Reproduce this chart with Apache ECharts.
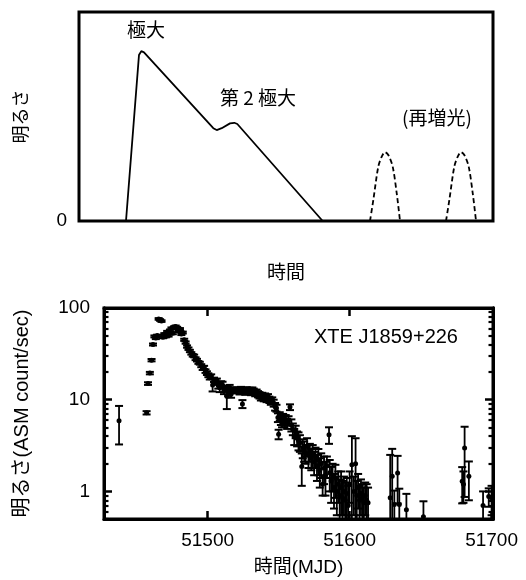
<!DOCTYPE html>
<html>
<head>
<meta charset="utf-8">
<script src="https://cdn.jsdelivr.net/npm/echarts@6/dist/echarts.min.js"></script>
<style>
html,body{margin:0;padding:0;background:#fff;}
#chart{width:526px;height:580px;}
</style>
</head>
<body>
<div id="chart"></div>
<script>
// ---------- Top schematic panel ----------
const outburstX = [11.35, 14.49, 15.05, 15.70, 32.44, 33.26, 34.47, 36.47, 37.51, 38.24, 58.86];
const outburstY = [0, 79.4, 81.3, 80.7, 44.4, 43.5, 44.4, 46.7, 47.0, 46.4, 0];
const rebright1X = [70.29, 71.09, 72.29, 73.12, 73.91, 74.71, 75.77, 76.74, 77.54];
const rebright1Y = [0, 10, 26, 30.8, 32.9, 31.6, 26, 13.3, 0];
const rebright2X = [88.65, 89.45, 90.65, 91.48, 92.27, 93.07, 94.13, 95.10, 95.90];
const rebright2Y = [0, 10, 26, 30.8, 32.9, 31.6, 26, 13.3, 0];
const topLabels = ['極大', '第 2 極大', '(再増光)'];

// ---------- Bottom light curve (XTE J1859+226, RXTE/ASM) ----------
const mjd = [
 51437.6,
 51457.0,51458.0,51459.3,51460.5,51461.5,51462.5,51463.5,51464.5,51465.5,51466.5,51467.5,51468.5,51469.5,51470.5,
 51471.5,51472.5,51473.5,51474.5,51475.5,51476.5,51477.5,51478.5,51479.5,51480.5,51481.5,51482.5,51483.5,51484.5,
 51485.5,51486.5,51487.5,51488.5,51489.5,51490.5,51491.5,51492.5,51493.5,51494.5,51495.5,51496.5,51497.5,51498.5,
 51499.5,51500.5,51501.5,51502.5,51503.5,51504.5,51505.5,51506.5,51507.5,51508.5,51509.5,51510.5,51511.5,51512.5,
 51513.5,51514.5,51515.5,51516.5,51518.5,51520.5,51522.5,51523.5,51524.5,51525.5,51526.5,51527.5,51528.5,51529.5,
 51530.5,51531.5,51532.5,51533.5,51534.5,51535.5,51536.5,51537.5,51538.5,51539.5,51540.5,51541.5,51542.5,51543.5,
 51544.5,51545.5,51546.5,51547.5,51548.5,51549.5,51550.0,51550.8,51551.6,51552.4,51553.2,51554.0,51555.0,51556.0,
 51557.0,51558.0,51559.0,51560.0,51561.0,51562.0,51563.0,51564.0,51565.0,51566.3,51567.0,51568.0,51569.0,51570.0,
 51571.0,51572.0,51573.0,51574.0,51575.0,51576.0,51577.0,51578.0,51579.0,51580.0,51581.0,51582.0,51583.0,51584.0,
 51585.5,51586.0,51587.0,51588.0,51589.0,51590.0,51591.0,51592.0,51593.0,51594.0,51595.0,51596.0,51597.0,51598.0,
 51599.0,51600.0,51601.6,51603.0,51604.2,51605.0,51606.0,51607.0,51608.0,51609.0,51610.0,51611.0,51612.0,51613.0,
 51628.6,51630.0,51631.5,51633.8,51635.0,51640.0,51652.0,51679.3,51680.2,51681.0,51684.0,51694.0,51698.0,51700.0
];
const rate = [
 5.9,
 7.2,15.0,19.5,27.0,40.0,49.0,47.0,50.0,76.0,74.0,72.0,48.0,52.0,49.0,
 55.0,50.0,57.0,60.0,53.0,62.0,63.0,61.0,56.0,59.0,52.0,54.0,45.0,42.0,
 38.0,36.0,34.0,32.0,30.5,30.0,28.0,27.0,25.5,25.0,23.5,22.0,22.5,20.5,
 19.5,18.5,17.5,18.0,14.5,16.5,15.5,16.0,14.2,13.5,15.0,14.5,12.5,13.2,
 10.9,12.0,13.5,11.5,12.8,12.6,12.3,12.9,9.0,12.5,12.2,12.8,12.4,12.6,
 12.1,12.7,12.3,11.8,12.0,11.5,11.2,10.7,11.0,10.5,10.8,10.3,10.6,10.0,
 9.6,9.8,9.2,8.4,8.1,6.4,4.2,6.6,6.0,5.7,6.3,5.8,6.1,5.5,
 5.9,8.3,5.3,4.8,4.0,4.5,3.8,3.6,3.4,1.87,3.0,2.8,2.6,3.1,
 2.5,2.7,2.3,2.5,2.1,2.4,1.9,2.2,1.7,2.0,1.2,1.8,1.5,1.9,
 4.15,1.6,1.3,1.5,1.1,1.4,1.0,1.2,0.9,1.1,0.85,1.0,0.8,0.95,
 0.7,1.2,1.95,1.0,2.0,0.9,1.1,0.8,0.95,0.85,0.75,0.9,0.8,0.75,
 0.85,1.46,0.72,1.59,0.72,0.63,0.53,1.29,1.2,2.97,1.46,0.7,0.88,0.85
];
const rateErr = [
 2.65,
 0.3,0.5,0.6,0.8,1.0,1.2,1.2,1.2,1.6,1.5,1.5,1.2,1.2,1.2,
 1.3,1.2,1.3,1.4,1.3,1.4,1.4,1.4,1.3,1.4,1.3,1.3,1.2,1.2,
 1.1,1.1,1.0,1.0,1.0,1.0,1.0,0.9,0.9,0.9,0.9,0.9,0.9,0.9,
 0.9,0.9,0.9,0.9,2.2,0.9,1.0,1.0,1.0,1.4,0.9,1.2,1.0,1.0,
 3.0,1.0,1.0,1.0,0.9,0.9,0.9,0.9,0.9,0.9,0.9,0.9,0.9,0.9,
 0.9,0.9,0.9,0.9,0.9,0.9,0.9,0.9,0.9,0.9,0.9,0.9,0.9,0.8,
 0.8,0.8,0.8,0.8,0.7,0.7,0.5,0.7,0.7,0.7,0.7,0.8,0.7,0.7,
 0.7,0.6,0.8,0.7,0.8,0.7,0.7,0.8,0.7,0.72,0.7,0.7,0.6,0.7,
 0.7,0.6,0.6,0.7,0.6,0.6,0.6,0.7,0.6,0.6,0.3,0.6,0.6,0.5,
 0.85,0.6,0.55,0.5,0.45,0.55,0.45,0.45,0.45,0.55,0.45,0.45,0.45,0.45,
 0.45,0.45,2.05,0.45,1.8,0.4,0.45,0.35,0.4,0.35,0.35,0.35,0.4,0.35,
 1.65,1.45,0.3,0.85,0.35,0.31,0.25,0.55,0.45,2.1,0.66,0.3,0.2,0.3
];
const xTicks = [51500, 51600, 51700];
const xTopTicks = [51500, 51600];
const yMajor = [1, 10, 100];
const yMinor = [0.5,0.6,0.7,0.8,0.9, 2,3,4,5,6,7,8,9, 20,30,40,50,60,70,80,90];
const Y_MIN = 0.5, Y_MAX = 100, X_MIN = 51427, X_MAX = 51701;

const LATIN = "'Liberation Sans', 'Noto Sans CJK JP', sans-serif";
const CJK = "'Noto Sans CJK JP', 'Liberation Sans', sans-serif";

const curveData = outburstX.map((x, i) => [x, outburstY[i]]);
const rb1 = rebright1X.map((x, i) => [x, rebright1Y[i]]);
const rb2 = rebright2X.map((x, i) => [x, rebright2Y[i]]);
const lcData = mjd.map((x, i) => [x, rate[i], rateErr[i]]);

function errRender(params, api) {
  const x = api.value(0), y = api.value(1), e = api.value(2);
  const loRaw = y - e, hiRaw = y + e;
  const lo = Math.max(loRaw, Y_MIN), hi = Math.min(hiRaw, Y_MAX);
  const pc = api.coord([x, y]);
  const pl = api.coord([x, lo]);
  const ph = api.coord([x, hi]);
  const w = 4;
  const children = [
    { type: 'line', shape: { x1: pc[0], y1: ph[1], x2: pc[0], y2: pl[1] }, style: { stroke: '#000', lineWidth: 1.8 } }
  ];
  if (hiRaw <= Y_MAX) children.push({ type: 'line', shape: { x1: pc[0] - w, y1: ph[1], x2: pc[0] + w, y2: ph[1] }, style: { stroke: '#000', lineWidth: 2 } });
  if (loRaw >= Y_MIN) children.push({ type: 'line', shape: { x1: pc[0] - w, y1: pl[1], x2: pc[0] + w, y2: pl[1] }, style: { stroke: '#000', lineWidth: 2 } });
  children.push({ type: 'circle', shape: { cx: pc[0], cy: pc[1], r: 2.5 }, style: { fill: '#000' } });
  return { type: 'group', children };
}

const chart = echarts.init(document.getElementById('chart'), null, { renderer: 'canvas' });
const tickLabelStyle = { color: '#000', fontFamily: LATIN, fontSize: 19 };
const frameLine = { show: true, lineStyle: { color: '#000', width: 3 } };
const majorTick = (vals) => ({ show: true, inside: true, length: 8, customValues: vals, lineStyle: { color: '#000', width: 2.5 } });
const minorTick = (vals) => ({ show: true, inside: true, length: 4.5, customValues: vals, lineStyle: { color: '#000', width: 2.2 } });

chart.setOption({
  animation: false,
  backgroundColor: '#fff',
  grid: [
    { left: 79, top: 12, width: 414, height: 209, show: true, borderColor: '#000', borderWidth: 3, backgroundColor: 'transparent' },
    { left: 104, top: 308, width: 389, height: 211, show: true, borderColor: '#000', borderWidth: 3, backgroundColor: 'transparent' }
  ],
  xAxis: [
    { gridIndex: 0, type: 'value', min: 0, max: 100, axisLine: { show: false }, axisTick: { show: false },
      axisLabel: { show: false }, splitLine: { show: false },
      name: '時間', nameLocation: 'middle', nameGap: 41,
      nameTextStyle: { color: '#000', fontFamily: CJK, fontSize: 19 } },
    { gridIndex: 1, type: 'value', min: X_MIN, max: X_MAX, position: 'bottom',
      axisLine: frameLine, splitLine: { show: false },
      axisTick: majorTick(xTicks),
      axisLabel: { customValues: xTicks, margin: 12, ...tickLabelStyle, formatter: v => String(v) },
      name: '時間(MJD)', nameLocation: 'middle', nameGap: 39,
      nameTextStyle: { color: '#000', fontFamily: LATIN, fontSize: 19 } },
    { gridIndex: 1, type: 'value', min: X_MIN, max: X_MAX, position: 'top',
      axisLine: frameLine, splitLine: { show: false }, axisLabel: { show: false },
      axisTick: majorTick(xTopTicks) }
  ],
  yAxis: [
    { gridIndex: 0, type: 'value', min: 0, max: 100, axisLine: { show: false }, axisTick: { show: false }, splitLine: { show: false },
      axisLabel: { customValues: [0], margin: 12, color: '#000', fontFamily: LATIN, fontSize: 19, formatter: () => '0' },
      name: '明るさ', nameLocation: 'middle', nameRotate: 90, nameGap: 50,
      nameTextStyle: { color: '#000', fontFamily: CJK, fontSize: 18 } },
    { gridIndex: 1, type: 'log', min: Y_MIN, max: Y_MAX, position: 'left',
      axisLine: frameLine, splitLine: { show: false },
      axisTick: majorTick(yMajor),
      axisLabel: { customValues: yMajor, margin: 14, ...tickLabelStyle, formatter: v => String(Math.round(v)) },
      name: '明るさ(ASM count/sec)', nameLocation: 'middle', nameRotate: 90, nameGap: 72,
      nameTextStyle: { color: '#000', fontFamily: LATIN, fontSize: 20 } },
    { gridIndex: 1, type: 'log', min: Y_MIN, max: Y_MAX, position: 'left',
      axisLine: frameLine, splitLine: { show: false }, axisLabel: { show: false },
      axisTick: minorTick(yMinor) },
    { gridIndex: 1, type: 'log', min: Y_MIN, max: Y_MAX, position: 'right',
      axisLine: frameLine, splitLine: { show: false }, axisLabel: { show: false },
      axisTick: majorTick(yMajor) },
    { gridIndex: 1, type: 'log', min: Y_MIN, max: Y_MAX, position: 'right',
      axisLine: frameLine, splitLine: { show: false }, axisLabel: { show: false },
      axisTick: minorTick(yMinor) }
  ],
  series: [
    { type: 'line', xAxisIndex: 0, yAxisIndex: 0, data: curveData, showSymbol: false, symbol: 'none',
      lineStyle: { color: '#000', width: 1.8 } },
    { type: 'line', xAxisIndex: 0, yAxisIndex: 0, data: rb1, showSymbol: false, symbol: 'none', smooth: 0.3,
      lineStyle: { color: '#000', width: 1.8, type: [5, 3] } },
    { type: 'line', xAxisIndex: 0, yAxisIndex: 0, data: rb2, showSymbol: false, symbol: 'none', smooth: 0.3,
      lineStyle: { color: '#000', width: 1.8, type: [5, 3] } },
    { type: 'custom', xAxisIndex: 1, yAxisIndex: 1, data: lcData, renderItem: errRender, clip: true,
      encode: { x: 0, y: 1 } }
  ],
  graphic: [
    { type: 'text', x: 146, y: 30, style: { text: topLabels[0], font: '19px ' + CJK, fill: '#000', align: 'center', verticalAlign: 'middle' } },
    { type: 'text', x: 258, y: 98, style: { text: topLabels[1], font: '19px ' + CJK, fill: '#000', align: 'center', verticalAlign: 'middle' } },
    { type: 'text', x: 437, y: 118, style: { text: topLabels[2], font: '19px ' + CJK, fill: '#000', align: 'center', verticalAlign: 'middle' } },
    { type: 'text', x: 386, y: 337, style: { text: 'XTE J1859+226', font: '20px ' + LATIN, fill: '#000', align: 'center', verticalAlign: 'middle' } }
  ]
});
</script>
</body>
</html>
